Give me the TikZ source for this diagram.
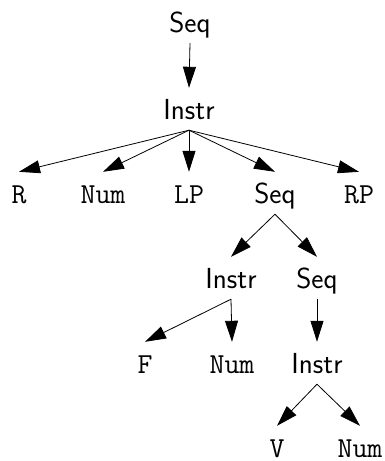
\documentclass[tikz,border=0pt]{standalone}
\usepackage{fontspec}
\usetikzlibrary{arrows.meta}
\begin{document}
\begin{tikzpicture}[x=1pt,y=-1pt,
  lbl/.style={anchor=base, text height=20pt, text depth=0pt, inner xsep=2pt, inner ysep=11pt, font=\fontsize{29}{33}\selectfont},
  sf/.style={lbl, font=\fontsize{29}{33}\selectfont\sffamily},
  tt/.style={lbl, font=\fontsize{29}{33}\selectfont\ttfamily},
  arr/.style={-{Triangle[length=21pt,width=13pt]}, line width=0.8pt}]
\useasboundingbox (0,0) rectangle (385,461);
\node[sf] (seq0) at (190,32) {Seq};
\node[sf] (instr0) at (189,119) {Instr};
\node[tt] (r) at (19,203) {R};
\node[tt] (num1) at (103,203) {Num};
\node[tt] (lp) at (189,203) {LP};
\node[sf] (seq1) at (275,203) {Seq};
\node[tt] (rp) at (359,203) {RP};
\node[sf] (instr2) at (231,288) {Instr};
\node[sf] (seq2) at (317,288) {Seq};
\node[tt] (f) at (145,373) {F};
\node[tt] (num2) at (232,373) {Num};
\node[sf] (instr3) at (317,373) {Instr};
\node[tt] (v) at (277,457) {V};
\node[tt] (num3) at (360,457) {Num};
\draw[arr] (seq0.south) -- (instr0.north);
\foreach \c in {r,num1,lp,seq1,rp} \draw[arr] (instr0.south) -- (\c.north);
\draw[arr] (seq1.south) -- (instr2.north);
\draw[arr] (seq1.south) -- (seq2.north);
\draw[arr] (instr2.south) -- (f.north);
\draw[arr] (instr2.south) -- (num2.north);
\draw[arr] (seq2.south) -- (instr3.north);
\draw[arr] (instr3.south) -- (v.north);
\draw[arr] (instr3.south) -- (num3.north);
\end{tikzpicture}
\end{document}
